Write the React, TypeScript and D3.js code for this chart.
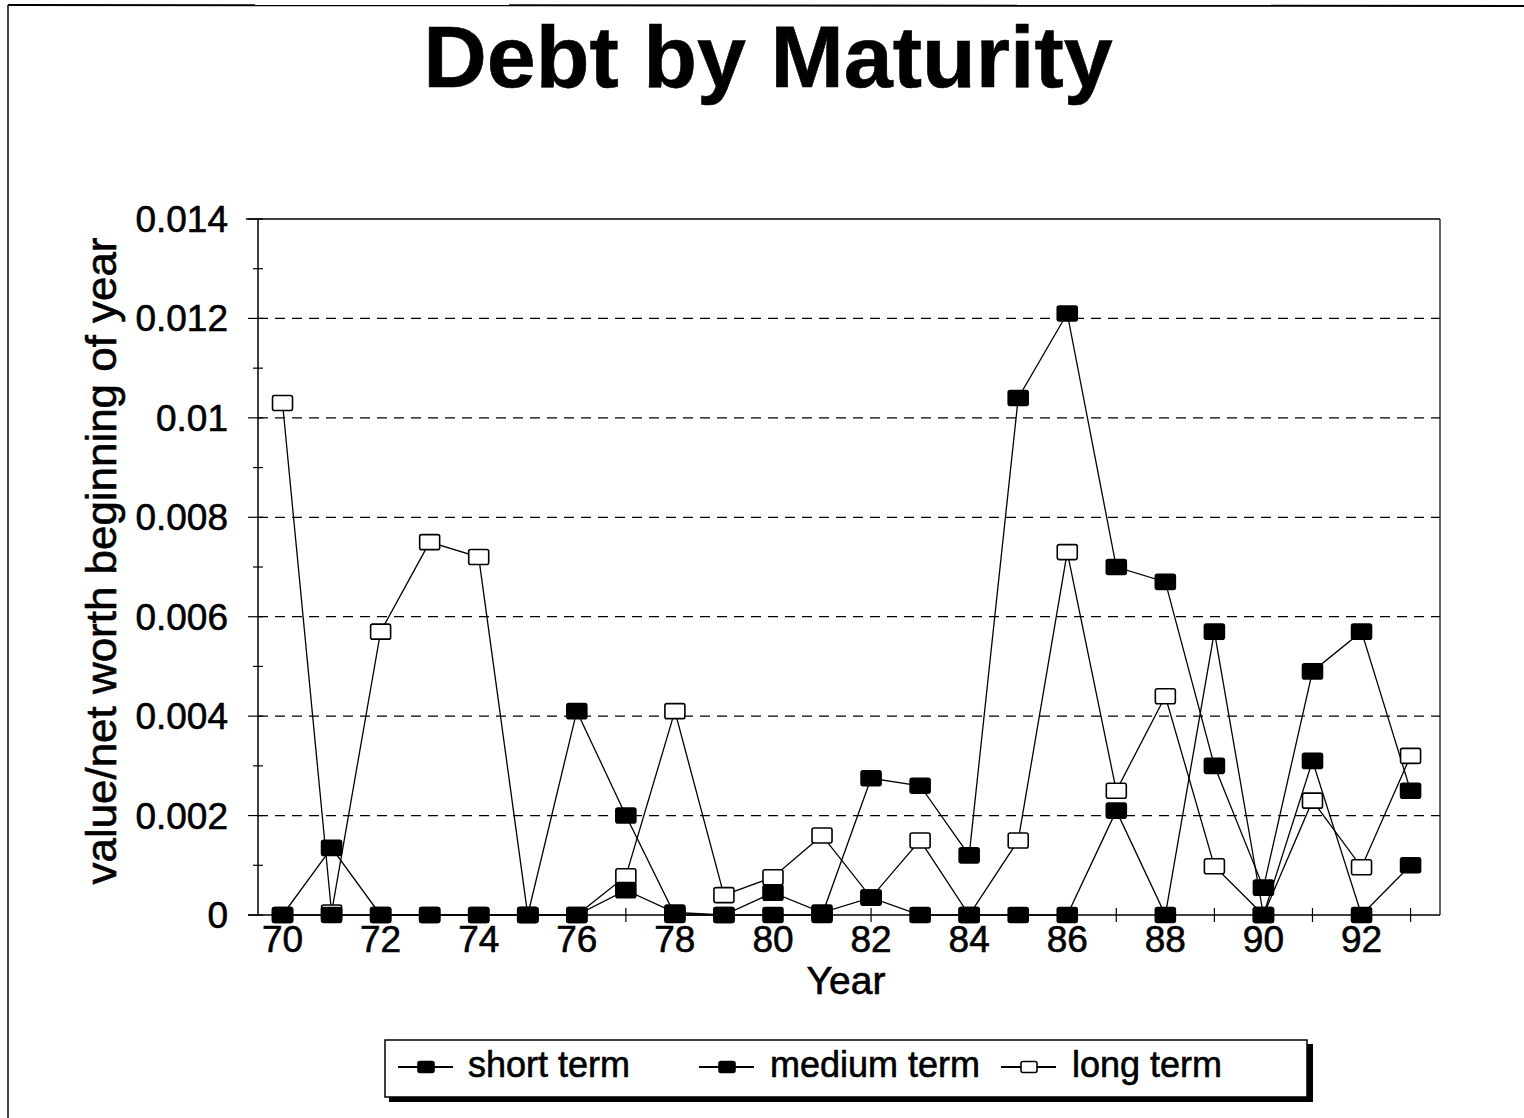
import React from "react";
import * as d3 from "d3";

const years = [70, 71, 72, 73, 74, 75, 76, 77, 78, 79, 80, 81, 82, 83, 84, 85, 86, 87, 88, 89, 90, 91, 92, 93];
const shortTerm = [0, 0.00135, 0, 0, 0, 0, 0, 0.0005, 0.00005, 0, 0.00045, 0.00005, 0.00035, 0, 0, 0, 0, 0.0021, 0, 0.0057, 0, 0.0031, 0, 0.001];
const mediumTerm = [0, 0, 0, 0, 0, 0, 0.0041, 0.002, 0, 0, 0, 0, 0.00275, 0.0026, 0.0012, 0.0104, 0.0121, 0.007, 0.0067, 0.003, 0.00055, 0.0049, 0.0057, 0.0025];
const longTerm = [0.0103, 0.00005, 0.0057, 0.0075, 0.0072, 0, 0, 0.00078, 0.0041, 0.0004, 0.00076, 0.0016, 0.00035, 0.0015, 0, 0.0015, 0.0073, 0.0025, 0.0044, 0.00098, 0, 0.0023, 0.00096, 0.0032];
const yTicks = [0, 0.002, 0.004, 0.006, 0.008, 0.01, 0.012, 0.014];
const yTickLabels = ["0", "0.002", "0.004", "0.006", "0.008", "0.01", "0.012", "0.014"];
const yMinorTicks = [0.001, 0.003, 0.005, 0.007, 0.009, 0.011, 0.013];
const xTickLabels = [70, 72, 74, 76, 78, 80, 82, 84, 86, 88, 90, 92];
const seriesNames = ["short term", "medium term", "long term"];

const FONT = "'Liberation Sans', Arial, Helvetica, sans-serif";

export default function App() {
  const left = 258, right = 1440, top = 219, bottom = 915;
  const x = d3.scaleLinear().domain([69.5, 93.6]).range([left, right]);
  const y = d3.scaleLinear().domain([0, 0.014]).range([bottom, top]);
  const line = d3
    .line<[number, number]>()
    .x((d) => x(d[0]))
    .y((d) => y(d[1]));

  const series = [
    { name: seriesNames[0], values: shortTerm, open: false },
    { name: seriesNames[1], values: mediumTerm, open: false },
    { name: seriesNames[2], values: longTerm, open: true },
  ];
  const pts = (vals: number[]) => years.map((yr, i) => [yr, vals[i]] as [number, number]);

  const mw = 20, mh = 15;
  const marker = (cx: number, cy: number, open: boolean, key: string, w = mw, h = mh) => (
    <rect
      key={key}
      x={cx - w / 2}
      y={cy - h / 2}
      width={w}
      height={h}
      rx={2}
      fill={open ? "#fff" : "#000"}
      stroke="#000"
      strokeWidth={1.6}
    />
  );

  const drawOrder = [series[2], series[1], series[0]];

  const legendItems = [
    { name: seriesNames[0], mx: 426, tx: 468, open: false },
    { name: seriesNames[1], mx: 727, tx: 770, open: false },
    { name: seriesNames[2], mx: 1029, tx: 1072, open: true },
  ];

  const textStroke = { stroke: "#000", strokeWidth: 0.6 };

  return (
    <svg
      width={1524}
      height={1118}
      style={{ position: "absolute", left: 0, top: 0, background: "#fff" }}
      fontFamily={FONT}
    >
      <rect x={0} y={0} width={1524} height={1118} fill="#fff" />
      {/* outer frame */}
      <line x1={8} y1={5} x2={1524} y2={6} stroke="#000" strokeWidth={2} />
      <line x1={8} y1={5} x2={8} y2={1118} stroke="#000" strokeWidth={1.5} />

      <text x={768} y={87} textAnchor="middle" fontSize={88} fontWeight="bold" {...textStroke}>
        Debt by Maturity
      </text>

      {/* grid */}
      {yTicks.slice(1, -1).map((t) => (
        <line key={"g" + t} x1={left} x2={right} y1={y(t)} y2={y(t)} stroke="#000" strokeWidth={1.2} strokeDasharray="10 7" />
      ))}
      {/* frame */}
      <line x1={left - 12} x2={right} y1={top} y2={top} stroke="#000" strokeWidth={1.5} />
      <line x1={right} x2={right} y1={top} y2={bottom} stroke="#000" strokeWidth={1.2} />
      <line x1={left} x2={left} y1={top} y2={bottom} stroke="#000" strokeWidth={1.5} />
      <line x1={left - 10} x2={right} y1={bottom} y2={bottom} stroke="#000" strokeWidth={1.5} />
      {/* y ticks */}
      {yTicks.map((t) => (
        <line key={"yt" + t} x1={left - 10} x2={left + 5} y1={y(t)} y2={y(t)} stroke="#000" strokeWidth={1.2} />
      ))}
      {yMinorTicks.map((t) => (
        <line key={"ym" + t} x1={left - 5} x2={left + 5} y1={y(t)} y2={y(t)} stroke="#000" strokeWidth={1.2} />
      ))}
      {yTicks.map((t, i) => (
        <text key={"yl" + t} x={228} y={y(t) + 13} textAnchor="end" fontSize={37} {...textStroke}>
          {yTickLabels[i]}
        </text>
      ))}
      {/* x ticks */}
      {years.map((yr) => (
        <line key={"xt" + yr} x1={x(yr)} x2={x(yr)} y1={bottom - 7} y2={bottom + 7} stroke="#000" strokeWidth={1.2} />
      ))}
      {xTickLabels.map((yr) => (
        <text key={"xl" + yr} x={x(yr)} y={952} textAnchor="middle" fontSize={37} {...textStroke}>
          {yr}
        </text>
      ))}
      <text x={(left + right) / 2 - 3} y={994} textAnchor="middle" fontSize={39} {...textStroke}>
        Year
      </text>
      <text
        transform={`translate(116, 561) rotate(-90)`}
        textAnchor="middle"
        fontSize={43}
        textLength={647}
        lengthAdjust="spacingAndGlyphs"
        {...textStroke}
      >
        value/net worth beginning of year
      </text>

      {/* lines */}
      {drawOrder.map((s) => (
        <path key={"l" + s.name} d={line(pts(s.values)) || ""} fill="none" stroke="#000" strokeWidth={1.3} />
      ))}
      {/* markers */}
      {drawOrder.map((s) =>
        pts(s.values).map((p, i) => marker(x(p[0]), y(p[1]), s.open, s.name + i))
      )}

      {/* legend */}
      <rect x={389} y={1044} width={924} height={58} fill="#000" />
      <rect x={385} y={1040} width={922} height={57} fill="#fff" stroke="#000" strokeWidth={1.5} />
      {legendItems.map((it) => (
        <g key={"lg" + it.name}>
          <line x1={it.mx - 28} x2={it.mx + 27} y1={1067} y2={1067} stroke="#000" strokeWidth={1.8} />
          {marker(it.mx, 1067, it.open, "lm" + it.name, 16, 11)}
          <text x={it.tx} y={1077} fontSize={36} {...textStroke}>
            {it.name}
          </text>
        </g>
      ))}
    </svg>
  );
}
